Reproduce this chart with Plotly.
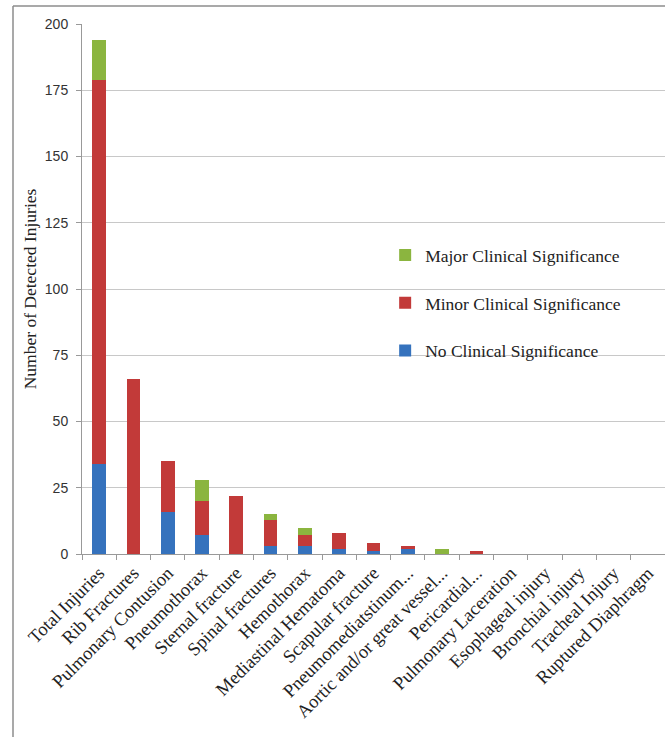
import plotly.graph_objects as go

# Thoracic injuries found on imaging, split by clinical significance
categories = [
    "Total Injuries", "Rib Fractures", "Pulmonary Contusion", "Pneumothorax",
    "Sternal fracture", "Spinal fractures", "Hemothorax", "Mediastinal Hematoma",
    "Scapular fracture", "Pneumomediatstinum...", "Aortic and/or great vessel...",
    "Pericardial...", "Pulmonary Laceration", "Esophageal injury",
    "Bronchial injury", "Tracheal Injury", "Ruptured Diaphragm",
]
no_significance = [34, 0, 16, 7, 0, 3, 3, 2, 1, 2, 0, 0, 0, 0, 0, 0, 0]
minor_significance = [145, 66, 19, 13, 22, 10, 4, 6, 3, 1, 0, 1, 0, 0, 0, 0, 0]
major_significance = [15, 0, 0, 8, 0, 2, 3, 0, 0, 0, 2, 0, 0, 0, 0, 0, 0]
y_ticks = [0, 25, 50, 75, 100, 125, 150, 175, 200]

# (name, values, colour, legend rank) - stacked bottom to top, listed top to bottom
series = [
    ("No Clinical Significance", no_significance, "#3572bd", 3),
    ("Minor Clinical Significance", minor_significance, "#c23a39", 2),
    ("Major Clinical Significance", major_significance, "#8bb53f", 1),
]

fig = go.Figure()
for i, (name, vals, color, rank) in enumerate(series):
    fig.add_trace(go.Bar(
        x=categories, y=vals, name=name,
        marker=dict(color=color, line=dict(width=0)),
        legendgroup=str(i), legendrank=rank,
    ))

serif = "Liberation Serif, Times New Roman, serif"
sans = "Liberation Sans, Arial, sans-serif"

fig.update_layout(
    width=665, height=737,
    barmode="stack", bargap=0.6,
    plot_bgcolor="white", paper_bgcolor="white",
    margin=dict(l=82, r=0, t=24, b=183),
    showlegend=True,
    legend=dict(
        x=0.52, y=0.598, xanchor="left", yanchor="top",
        traceorder="grouped", tracegroupgap=22,
        font=dict(family=serif, size=17.5, color="#222222"),
        itemwidth=30, bgcolor="rgba(0,0,0,0)",
    ),
    xaxis=dict(
        tickangle=-45, tickfont=dict(family=serif, size=18.5, color="#222222"),
        ticks="outside", tickson="boundaries", ticklen=5, tickcolor="#999999",
        showline=True, linecolor="#999999", linewidth=1,
        showgrid=False,
    ),
    yaxis=dict(
        range=[0, 200], tickvals=y_ticks,
        tickfont=dict(family=sans, size=14, color="#333333"),
        ticks="outside", ticklen=5, tickcolor="#999999", ticklabelstandoff=5,
        showline=True, linecolor="#999999", linewidth=1,
        gridcolor="#c8c8c8", gridwidth=1, zeroline=False,
        title=dict(text="Number of Detected Injuries",
                   font=dict(family=serif, size=17.5, color="#222222"),
                   standoff=3),
    ),
    shapes=[
        dict(type="line", xref="paper", yref="paper",
             x0=-69 / 583, x1=1.01, y0=(737 - 6 - 183) / 530, y1=(737 - 6 - 183) / 530,
             line=dict(color="#8c8c8c", width=1.5)),
        dict(type="line", xref="paper", yref="paper",
             x0=-69 / 583, x1=-69 / 583, y0=(737 - 6 - 183) / 530, y1=-183 / 530,
             line=dict(color="#8c8c8c", width=1.5)),
    ],
)

fig.write_html("out.html")
